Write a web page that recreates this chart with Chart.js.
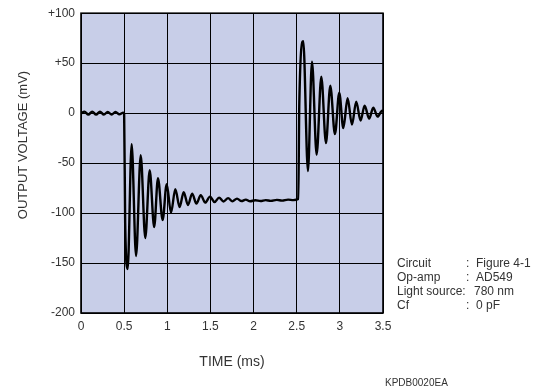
<!DOCTYPE html>
<html>
<head>
<meta charset="utf-8">
<script src="https://cdn.jsdelivr.net/npm/chart.js@4/dist/chart.umd.min.js"></script>
<style>
  html, body { margin: 0; padding: 0; background: #fff; }
  #wrap { width: 535px; height: 388px; position: relative; }
</style>
</head>
<body>
<div id="wrap"><canvas id="myChart" width="535" height="388"></canvas></div>
<script>
// time axis (ms) and output (mV)
const timeMs = [
  0, 0.04, 0.085, 0.13, 0.175, 0.22, 0.265, 0.31, 0.355, 0.4, 0.445, 0.49, 0.5,
  0.512, 0.541, 0.587, 0.638, 0.692, 0.745, 0.796, 0.848, 0.892, 0.946,
  0.993, 1.043, 1.093, 1.143, 1.19, 1.24, 1.288, 1.338, 1.388, 1.44,
  1.495, 1.548, 1.6, 1.652, 1.705, 1.755, 1.808, 1.86, 1.91, 1.96,
  2.02, 2.08, 2.14, 2.2, 2.27, 2.33, 2.4, 2.46, 2.518,
  2.53, 2.576, 2.63, 2.677, 2.731, 2.785, 2.839, 2.889, 2.943, 2.993,
  3.04, 3.09, 3.14, 3.19, 3.24, 3.287, 3.34, 3.387, 3.438, 3.49, 3.5
];
const outputMv = [
  -0.5, 1.5, -1.5, 1.5, -1.5, 1.5, -1.5, 1.2, -1.5, 1.2, -1.2, 0.5, -1,
  -110, -156, -31, -143, -42, -125, -57, -114, -65, -107,
  -71, -99.5, -76, -94, -79, -92, -80.5, -90.5, -82, -89.5,
  -83.5, -89, -84.5, -88.5, -85, -88.3, -85.5, -88, -86.5, -88.2,
  -87.2, -88, -87, -87.8, -86.8, -87.5, -86.5, -87, -86,
  10, 72, -58, 51.5, -41.5, 36.5, -30, 27.5, -21, 20.5,
  -15, 15, -11.5, 11.5, -7.5, 7.5, -5.5, 5.5, -3.5, 2.5, 1
];

const xTickLabels = ["0", "0.5", "1", "1.5", "2", "2.5", "3", "3.5"];
const yTickLabels = ["-200", "-150", "-100", "-50", "0", "+50", "+100"];

const noteLabels = ["Circuit", "Op-amp", "Light source:", "Cf"];
const noteValues = ["Figure 4-1", "AD549", "780 nm", "0 pF"];
const figCode = "KPDB0020EA";

const FONT = "'Liberation Sans', Arial, sans-serif";
const TEXT = "#333";

// lavender plot face + frame + free text (y title, notes, code)
const extras = {
  id: "extras",
  beforeDraw(chart) {
    const { ctx, chartArea: a } = chart;
    ctx.save();
    ctx.fillStyle = "#c8cee8";
    ctx.fillRect(a.left, a.top, a.right - a.left, a.bottom - a.top);
    ctx.restore();
  },
  afterDraw(chart) {
    const { ctx, chartArea: a } = chart;
    ctx.save();
    ctx.strokeStyle = "#000";
    ctx.lineWidth = 1.6;
    ctx.strokeRect(a.left, a.top, a.right - a.left, a.bottom - a.top);

    ctx.fillStyle = TEXT;
    // y title
    ctx.save();
    ctx.translate(23, 145);
    ctx.rotate(-Math.PI / 2);
    ctx.font = "13px " + FONT;
    ctx.textAlign = "center";
    ctx.textBaseline = "middle";
    ctx.fillText("OUTPUT VOLTAGE (mV)", 0, 0);
    ctx.restore();

    // conditions block
    ctx.font = "12px " + FONT;
    ctx.textBaseline = "alphabetic";
    ctx.textAlign = "left";
    noteLabels.forEach((lab, i) => {
      const y = 267 + i * 14;
      ctx.fillText(lab, 397, y);
      if (lab.endsWith(":")) {
        ctx.fillText(noteValues[i], 474, y);
      } else {
        ctx.fillText(":", 466, y);
        ctx.fillText(noteValues[i], 476, y);
      }
    });

    ctx.font = "10px " + FONT;
    ctx.fillText(figCode, 385, 386);
    ctx.restore();
  }
};

const points = timeMs.map((t, i) => ({ x: t, y: outputMv[i] }));

new Chart(document.getElementById("myChart"), {
  type: "line",
  data: {
    datasets: [{
      data: points,
      borderColor: "#000",
      borderWidth: 2.4,
      pointRadius: 0,
      fill: false,
      cubicInterpolationMode: "monotone"
    }]
  },
  options: {
    responsive: false,
    animation: false,
    layout: { padding: { left: 0, top: 11, right: 152, bottom: 0 } },
    plugins: { legend: { display: false }, tooltip: { enabled: false } },
    scales: {
      x: {
        type: "linear",
        min: 0,
        max: 3.5,
        afterFit: (s) => { s.height = 75; },
        afterBuildTicks: (s) => { s.ticks = xTickLabels.map((_, i) => ({ value: i * 0.5 })); },
        ticks: {
          autoSkip: false,
          maxRotation: 0,
          padding: 6,
          color: TEXT,
          font: { family: FONT, size: 12 },
          callback: (v, i) => xTickLabels[i]
        },
        grid: { color: "#000", lineWidth: 1, drawTicks: false },
        border: { display: false },
        title: {
          display: true,
          text: "TIME (ms)",
          color: TEXT,
          font: { family: FONT, size: 14 },
          padding: { top: 0, bottom: 17 }
        }
      },
      y: {
        type: "linear",
        min: -200,
        max: 100,
        afterFit: (s) => { s.width = 81; },
        afterBuildTicks: (s) => { s.ticks = yTickLabels.map((_, i) => ({ value: -200 + i * 50 })); },
        ticks: {
          autoSkip: false,
          padding: 6,
          color: TEXT,
          font: { family: FONT, size: 12 },
          callback: (v, i) => yTickLabels[i]
        },
        grid: { color: "#000", lineWidth: 1, drawTicks: false },
        border: { display: false }
      }
    }
  },
  plugins: [extras]
});
</script>
</body>
</html>
